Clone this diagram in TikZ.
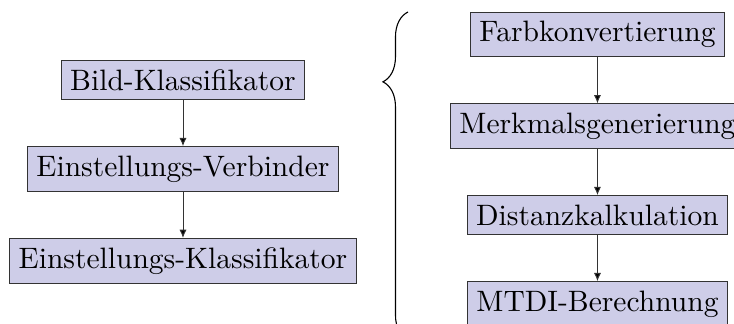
\documentclass[tikz,border=0pt]{standalone}
\usepackage{xcolor}
\usetikzlibrary{positioning,arrows.meta,decorations.pathreplacing}
\definecolor{boxfill}{RGB}{206,205,232}

\begin{document}
\begin{tikzpicture}
      [ block/.style={draw=black!80, fill=boxfill, line width=0.35pt,
                      font=\fontsize{10.74pt}{13pt}\selectfont},
        node distance=16.7pt,
        flow/.style={-{Latex[length=3pt,width=2.6pt]}, draw=black!80, line width=0.35pt}
      ]
      \useasboundingbox (0,0) rectangle (9.382,-4.141);

      % linke Kette
      \node[block] (bild)  at (2.339,-1.023)  {Bild-Klassifikator};
      \node[block] (verb)  [below=of bild]   {Einstellungs-Verbinder};
      \node[block] (klass) [below=of verb]   {Einstellungs-Klassifikator};

      % rechte Kette
      \node[block] (farb)  at (7.637,-0.441)  {Farbkonvertierung};
      \node[block] (merk)  [below=of farb]   {Merkmalsgenerierung};
      \node[block] (dist)  [below=of merk]   {Distanzkalkulation};
      \node[block] (mtdi)  [below=of dist]   {MTDI-Berechnung};

      \coordinate (brtop) at (5.215,-0.153);
      \coordinate (brbot) at (5.215,-4.346);
      \draw[decorate, decoration={brace, amplitude=0.32cm, aspect=0.787}]
            (brbot) -- (brtop);

      \path[flow] (bild) edge (verb)
                  (verb) edge (klass)
                  (farb) edge (merk)
                  (merk) edge (dist)
                  (dist) edge (mtdi);
\end{tikzpicture}
\end{document}
